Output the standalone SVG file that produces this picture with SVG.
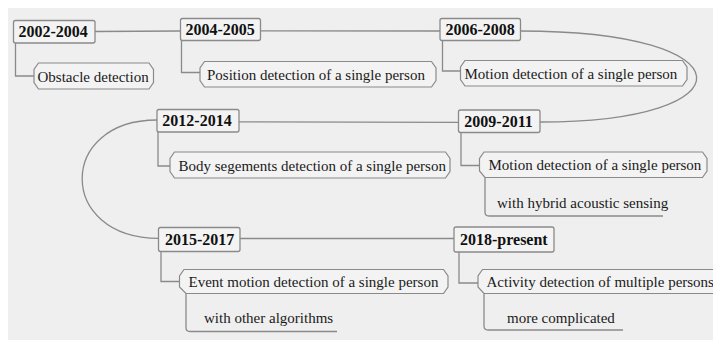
<svg xmlns="http://www.w3.org/2000/svg" width="713" height="341" viewBox="0 0 713 341">
<style>
.bg{fill:#efefef}
.box{fill:#f3f3f3;stroke:#8a8a8a;stroke-width:1.3}
.child{fill:#f3f3f3;stroke:#8a8a8a;stroke-width:1.2}
.ln{fill:none;stroke:#8a8a8a;stroke-width:1.3}
.t{font-family:"Liberation Serif","Times New Roman",serif;font-size:16px;font-weight:bold;fill:#111}
.c{font-family:"Liberation Serif","Times New Roman",serif;font-size:15px;fill:#1a1a1a}
</style>
<rect x="0" y="0" width="713" height="341" fill="#ffffff"/>
<rect class="bg" x="8" y="8" width="705" height="332"/>
<g id="connectors">
<path class="ln" d="M95,31.5 L180.5,31"/>
<path class="ln" d="M260.5,30.8 L440,31"/>
<path class="ln" d="M520.5,31 C752,31 752,122 540,122"/>
<path class="ln" d="M458.5,122.3 L239,121.8"/>
<path class="ln" d="M157,120 C57,120 57,238 158.5,238.3"/>
<path class="ln" d="M240,238.5 L454,238.5"/>
<path class="ln" d="M15.5,43 L15.5,76 L34,76"/>
<path class="ln" d="M181.5,40.5 L181.5,72.5 L200,72.5"/>
<path class="ln" d="M442.5,40.5 L442.5,71 L460.5,71"/>
<path class="ln" d="M158,132 L158,166 L170,166"/>
<path class="ln" d="M461,132.5 L461,165.5 L479.5,165.5"/>
<path class="ln" d="M161,251.5 L161,281.5 L179.5,281.5"/>
<path class="ln" d="M459,252 L459,283 L478,283"/>
</g>
<g id="n2002">
<rect class="box" x="13.5" y="20.5" width="81.5" height="22.5" rx="2"/>
<text class="t" x="18.5" y="37">2002-2004</text>
</g>
<g id="c2002">
<polygon class="child" points="38.5,63 149,63 153.5,69.5 153.5,82.5 149,89 38.5,89 34,82.5 34,69.5"/>
<text class="c" x="37.5" y="81.5">Obstacle detection</text>
</g>
<g id="n2004">
<rect class="box" x="180.5" y="18.5" width="80" height="22" rx="2"/>
<text class="t" x="185.5" y="34.5">2004-2005</text>
</g>
<g id="c2004">
<polygon class="child" points="204.5,61.5 431.5,61.5 436,68 436,80.5 431.5,87 204.5,87 200,80.5 200,68"/>
<text class="c" x="207" y="80">Position detection of a single person</text>
</g>
<g id="n2006">
<rect class="box" x="440" y="18.5" width="80.5" height="22" rx="2"/>
<text class="t" x="445.5" y="34.5">2006-2008</text>
</g>
<g id="c2006">
<polygon class="child" points="465,60.5 682.5,60.5 687,67 687,79.5 682.5,86 465,86 460.5,79.5 460.5,67"/>
<text class="c" x="464.5" y="78.5">Motion detection of a single person</text>
</g>
<g id="n2009">
<rect class="box" x="458.5" y="110" width="81.5" height="22.5" rx="2"/>
<text class="t" x="464.3" y="126.5">2009-2011</text>
</g>
<g id="c2009">
<path class="child" d="M484,152 L702.5,152 L707,158.5 L707,171 L702.5,177.5 L485,177.5 L479.5,171 L479.5,158.5 Z"/>
<path class="ln" d="M485,177.5 L485,212 Q485,216 489,216 L663,216"/>
<text class="c" x="488.5" y="170">Motion detection of a single person</text>
<text class="c" x="497" y="208">with hybrid acoustic sensing</text>
</g>
<g id="n2012">
<rect class="box" x="157" y="109.5" width="82" height="22.5" rx="2"/>
<text class="t" x="162.3" y="126">2012-2014</text>
</g>
<g id="c2012">
<polygon class="child" points="174.5,152 445.5,152 450,158.5 450,171.5 445.5,178 174.5,178 170,171.5 170,158.5"/>
<text class="c" x="178.5" y="170.5">Body segements detection of a single person</text>
</g>
<g id="n2015">
<rect class="box" x="158.5" y="227.5" width="81.5" height="24" rx="2"/>
<text class="t" x="165" y="244.5">2015-2017</text>
</g>
<g id="c2015">
<path class="child" d="M184,269.5 L443.5,269.5 L448,276 L448,287 L443.5,293.5 L186,293.5 L179.5,287 L179.5,276 Z"/>
<path class="ln" d="M186,293.5 L186,327.5 Q186,331.5 190,331.5 L337,331.5"/>
<text class="c" x="188.5" y="286.5">Event motion detection of a single person</text>
<text class="c" x="204" y="323">with other algorithms</text>
</g>
<g id="n2018">
<rect class="box" x="454" y="227" width="100" height="25" rx="2"/>
<text class="t" x="460" y="244.5">2018-present</text>
</g>
<g id="c2018">
<path class="child" d="M714,269.5 L482.5,269.5 L478,276 L478,287 L484,293.5 L714,293.5"/>
<path class="ln" d="M484,293.5 L484,326 Q484,330 488,330 L623,330"/>
<text class="c" x="486.5" y="286.5">Activity detection of multiple persons</text>
<text class="c" x="507" y="323">more complicated</text>
</g>
</svg>
